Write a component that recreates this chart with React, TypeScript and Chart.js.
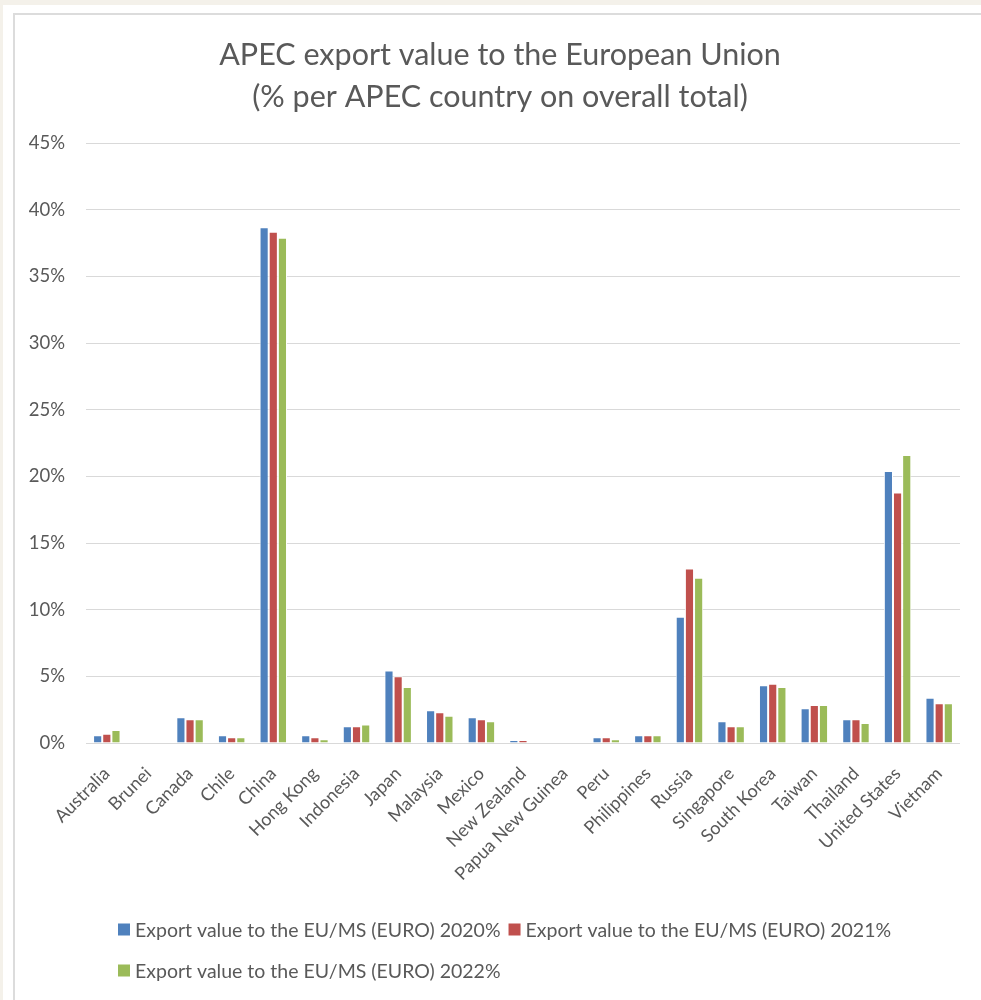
import React, { useEffect, useRef } from "react";
import { Chart, registerables } from "chart.js";

Chart.register(...registerables);

const countries = [
  "Australia", "Brunei", "Canada", "Chile", "China", "Hong Kong", "Indonesia",
  "Japan", "Malaysia", "Mexico", "New Zealand", "Papua New Guinea", "Peru",
  "Philippines", "Russia", "Singapore", "South Korea", "Taiwan", "Thailand",
  "United States", "Vietnam",
];
const values2020 = [0.58, 0, 1.93, 0.58, 38.7, 0.58, 1.25, 5.43, 2.45, 1.93, 0.22, 0, 0.43, 0.58, 9.48, 1.63, 4.33, 2.6, 1.78, 20.4, 3.4];
const values2021 = [0.7, 0, 1.78, 0.43, 38.35, 0.43, 1.25, 5.0, 2.3, 1.78, 0.22, 0, 0.43, 0.58, 13.1, 1.25, 4.45, 2.85, 1.78, 18.8, 2.98];
const values2022 = [0.98, 0, 1.78, 0.43, 37.9, 0.28, 1.38, 4.2, 2.05, 1.63, 0, 0, 0.28, 0.58, 12.4, 1.25, 4.2, 2.85, 1.5, 21.6, 2.98];
const seriesLabels = [
  "Export value to the EU/MS (EURO) 2020%",
  "Export value to the EU/MS (EURO) 2021%",
  "Export value to the EU/MS (EURO) 2022%",
];
const seriesColors = ["#4f81bd", "#c0504d", "#9bbb59"];
const titleLines = [
  "APEC export value to the European Union",
  "(% per APEC country on overall total)",
];

const FONT = 'Lato, "Noto Sans", sans-serif';
const TEXT = "#595959";

const titleShift = {
  id: "titleShift",
  afterLayout(chart: any) {
    const t = chart.titleBlock;
    if (t) {
      t.left = 0;
      t.right = 970;
      t.width = 970;
    }
  },
};

const customLegend = {
  id: "customLegend",
  afterDraw(chart: any) {
    const ctx = chart.ctx;
    const startX = 103;
    const rowY = [914.5, 955.5];
    const box = 12;
    const maxRight = chart.chartArea.right;
    ctx.save();
    ctx.font = `19.5px ${FONT}`;
    ctx.fillStyle = TEXT;
    ctx.textBaseline = "middle";
    ctx.textAlign = "left";
    let x = startX;
    let row = 0;
    chart.data.datasets.forEach((ds: any, i: number) => {
      const w = ctx.measureText(ds.label).width;
      const itemW = box + 5 + w;
      if (i > 0 && x + itemW > maxRight) {
        row += 1;
        x = startX;
      }
      const y = rowY[Math.min(row, rowY.length - 1)];
      ctx.fillStyle = ds.backgroundColor;
      ctx.fillRect(x, y - box / 2, box, box);
      ctx.fillStyle = TEXT;
      ctx.fillText(ds.label, x + box + 5, y + 1);
      x += itemW + 8;
    });
    ctx.restore();
  },
};

export default function App() {
  const ref = useRef<HTMLCanvasElement | null>(null);

  useEffect(() => {
    if (!ref.current) return;
    const chart = new Chart(ref.current, {
      type: "bar",
      data: {
        labels: countries,
        datasets: [values2020, values2021, values2022].map((d, i) => ({
          label: seriesLabels[i],
          data: d,
          backgroundColor: seriesColors[i],
          borderColor: "#ffffff",
          borderWidth: 1,
          categoryPercentage: 0.66,
          barPercentage: 1,
        })),
      },
      options: {
        responsive: false,
        animation: false,
        devicePixelRatio: 1,
        layout: { padding: { left: 0, right: 21, top: 0, bottom: 107 } },
        plugins: {
          legend: { display: false },
          tooltip: { enabled: false },
          title: {
            display: true,
            text: titleLines,
            color: TEXT,
            font: { family: FONT, size: 30.5, weight: "normal", lineHeight: 1.38 },
            padding: { top: 19, bottom: 25 },
          },
        },
        scales: {
          x: {
            grid: { display: false },
            border: { display: false },
            ticks: {
              autoSkip: false,
              maxRotation: 45,
              minRotation: 45,
              color: TEXT,
              font: { family: FONT, size: 18 },
              padding: 12,
            },
            afterFit: (s: any) => {
              s.height = 150;
            },
          },
          y: {
            min: 0,
            max: 45,
            grid: { color: "#d9d9d9", lineWidth: 1, drawTicks: false },
            border: { display: false },
            ticks: {
              stepSize: 5,
              color: TEXT,
              font: { family: FONT, size: 18.5 },
              padding: 21,
              callback: (v: any) => `${v}%`,
            },
            afterFit: (s: any) => {
              s.width = 71;
            },
          },
        },
      },
      plugins: [titleShift, customLegend],
    } as any);
    return () => chart.destroy();
  }, []);

  return (
    <div style={{ position: "absolute", left: 0, top: 0, width: 981, height: 1000, background: "#f4f1ea", overflow: "hidden" }}>
      <div style={{ position: "absolute", left: 3, top: 5, right: 0, bottom: 0, background: "#ffffff" }} />
      <div style={{ position: "absolute", left: 13, top: 13, width: 990, height: 1010, border: "2px solid #dcdcdc", background: "#ffffff" }} />
      <canvas ref={ref} width={966} height={985} style={{ position: "absolute", left: 15, top: 15, width: 966, height: 985 }} />
    </div>
  );
}
